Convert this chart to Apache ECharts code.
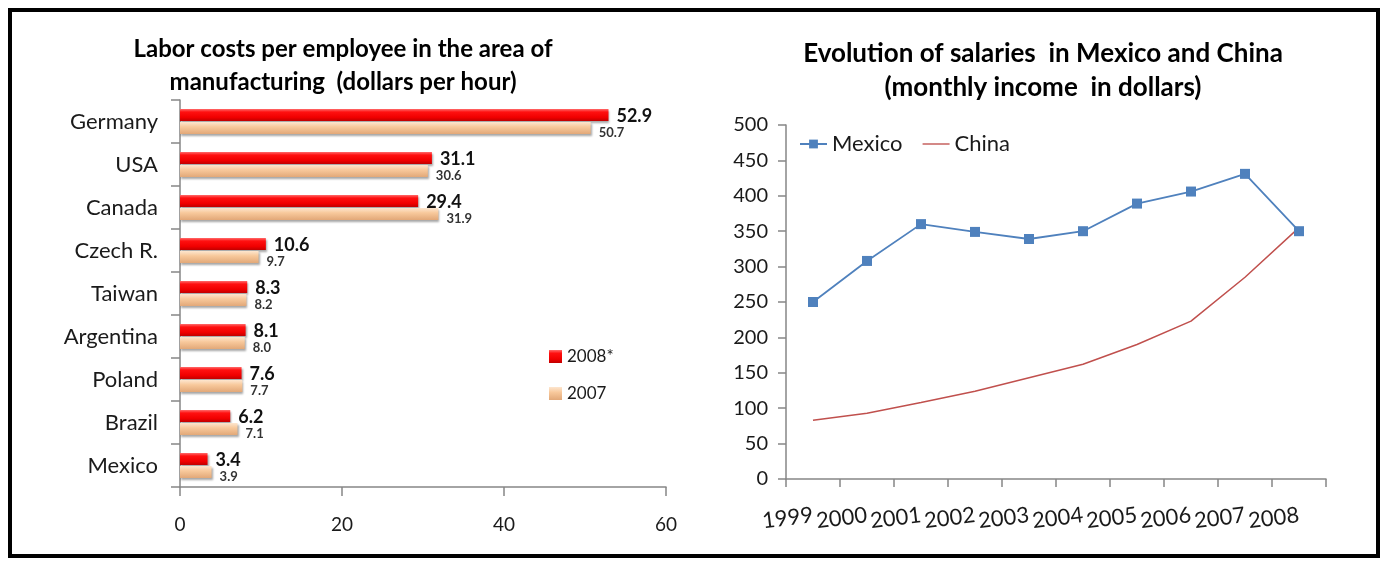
<!DOCTYPE html>
<html>
<head>
<meta charset="utf-8">
<script src="https://cdn.jsdelivr.net/npm/echarts@6/dist/echarts.min.js"></script>
<style>
html,body{margin:0;padding:0;background:#fff;}
#c{width:1384px;height:563px;}
</style>
</head>
<body>
<div id="c"></div>
<script>
// ---- Data ----
const countries = ['Germany','USA','Canada','Czech R.','Taiwan','Argentina','Poland','Brazil','Mexico'];
const cost2008 = [52.9, 31.1, 29.4, 10.6, 8.3, 8.1, 7.6, 6.2, 3.4];
const cost2007 = [50.7, 30.6, 31.9, 9.7, 8.2, 8.0, 7.7, 7.1, 3.9];
const years = ['1999','2000','2001','2002','2003','2004','2005','2006','2007','2008'];
const mexico = [250, 308, 360, 349, 339, 350, 389, 406, 431, 350];
const china = [83, 93, 108, 124, 143, 162, 190, 223, 285, 355];
const leftTitle = 'Labor costs per employee in the area of\nmanufacturing  (dollars per hour)';
const rightTitle = 'Evolution of salaries  in Mexico and China\n(monthly income  in dollars)';

const FONT = 'Lato';
const TXT = '#1a1a1a';
const AX = '#868686';

const redGrad = new echarts.graphic.LinearGradient(0,0,0,1,[
  {offset:0,color:'#ff6a6a'},{offset:0.25,color:'#ff1010'},{offset:0.7,color:'#f00000'},{offset:1,color:'#c00000'}]);
const tanGrad = new echarts.graphic.LinearGradient(0,0,0,1,[
  {offset:0,color:'#fde6cf'},{offset:0.4,color:'#f8c99c'},{offset:1,color:'#e2a878'}]);

const chart = echarts.init(document.getElementById('c'));
chart.setOption({
  animation:false,
  textStyle:{fontFamily:FONT},
  title:[
    {text:leftTitle,left:338,top:28,textAlign:'center',
     textStyle:{fontFamily:FONT,fontSize:24,fontWeight:'bold',color:'#000',lineHeight:33}},
    {text:rightTitle,left:1038,top:32,textAlign:'center',
     textStyle:{fontFamily:FONT,fontSize:26,fontWeight:'bold',color:'#000',lineHeight:34}}
  ],
  legend:[
    {data:['2008*','2007'],orient:'vertical',left:544,top:343,itemWidth:13,itemHeight:13,itemGap:20,
     icon:'rect',textStyle:{fontFamily:FONT,fontSize:17,color:TXT}},
    {data:[{name:'Mexico'},{name:'China',icon:'path://M0,0H40V2H0Z'}],
     left:794,top:128,itemWidth:27,itemHeight:11,itemGap:20,symbolKeepAspect:true,
     textStyle:{fontFamily:FONT,fontSize:22,color:TXT}}
  ],
  grid:[
    {left:180,right:718,top:100,bottom:76},
    {left:786,right:58,top:125,bottom:84}
  ],
  xAxis:[
    {gridIndex:0,type:'value',min:0,max:60,interval:20,
     axisLine:{show:true,lineStyle:{color:AX,width:1.5}},
     axisTick:{show:true,length:9,lineStyle:{color:AX,width:1.5}},
     splitLine:{show:false},
     axisLabel:{fontFamily:FONT,fontSize:19,color:TXT,margin:28}},
    {gridIndex:1,type:'category',data:years,boundaryGap:true,
     axisLine:{lineStyle:{color:AX,width:1.5}},
     axisTick:{show:true,length:8,lineStyle:{color:AX,width:1.5}},
     axisLabel:{fontFamily:FONT,fontSize:22,color:TXT,rotate:7,margin:36,interval:0}}
  ],
  yAxis:[
    {gridIndex:0,type:'category',data:countries,inverse:true,
     axisLine:{lineStyle:{color:AX,width:1.5}},
     axisTick:{show:true,length:9,lineStyle:{color:AX,width:1.5}},
     axisLabel:{fontFamily:FONT,fontSize:22,color:TXT,margin:22}},
    {gridIndex:1,type:'value',min:0,max:500,interval:50,
     axisLine:{show:true,lineStyle:{color:AX,width:1.5}},
     axisTick:{show:true,length:8,lineStyle:{color:AX,width:1.5}},
     splitLine:{show:false},
     axisLabel:{fontFamily:FONT,fontSize:20,color:TXT,margin:18}}
  ],
  series:[
    {name:'2008*',type:'bar',xAxisIndex:0,yAxisIndex:0,data:cost2008,barWidth:12,barGap:'8%',
     itemStyle:{color:redGrad,shadowColor:'rgba(0,0,0,0.35)',shadowBlur:2,shadowOffsetY:2,shadowOffsetX:1},
     label:{show:true,position:'right',distance:8,offset:[0,1],fontFamily:FONT,fontSize:18,fontWeight:'bold',color:'#111',
       formatter:p=>p.value.toFixed(1)}},
    {name:'2007',type:'bar',xAxisIndex:0,yAxisIndex:0,data:cost2007,barWidth:12,
     itemStyle:{color:tanGrad,shadowColor:'rgba(0,0,0,0.35)',shadowBlur:2,shadowOffsetY:2,shadowOffsetX:1},
     label:{show:true,position:'right',distance:8,offset:[0,5],fontFamily:FONT,fontSize:13,fontWeight:'bold',color:'#333',
       formatter:p=>p.value.toFixed(1)}},
    {name:'Mexico',type:'line',xAxisIndex:1,yAxisIndex:1,data:mexico,
     symbol:'rect',symbolSize:10,lineStyle:{color:'#4f81bd',width:1.8},itemStyle:{color:'#4f81bd'}},
    {name:'China',type:'line',xAxisIndex:1,yAxisIndex:1,data:china,
     symbol:'none',lineStyle:{color:'#c0504d',width:1.5},itemStyle:{color:'#c0504d'}}
  ],
  graphic:[
    {type:'rect',shape:{x:10,y:10,width:1368,height:546},
     style:{fill:'none',stroke:'#000',lineWidth:4},silent:true}
  ]
});
</script>
</body>
</html>
